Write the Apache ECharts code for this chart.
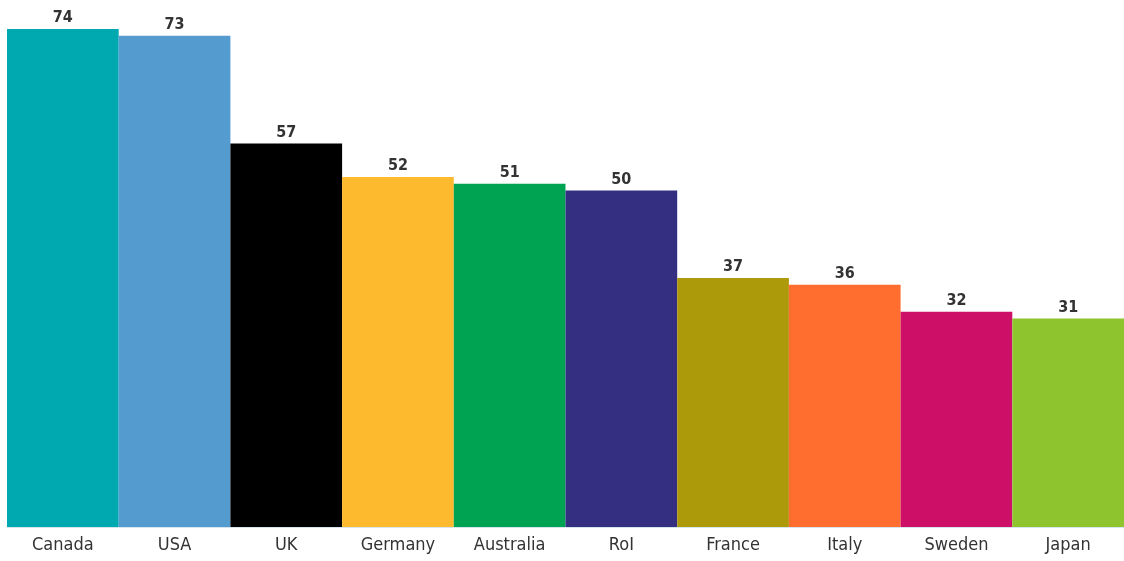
<!DOCTYPE html>
<html>
<head>
<meta charset="utf-8">
<script src="https://cdn.jsdelivr.net/npm/echarts@6/dist/echarts.min.js"></script>
<style>html,body{margin:0;padding:0;background:#fff}#chart{width:1124px;height:561px}</style>
</head>
<body>
<div id="chart"></div>
<script>
const categories = ['Canada','USA','UK','Germany','Australia','RoI','France','Italy','Sweden','Japan'];
const values = [74,73,57,52,51,50,37,36,32,31];
const colors = ['#00A8B0','#549BCF','#000000','#FDBA2F','#00A352','#352F82','#AD9A0B','#FF6E2F','#CE0F68','#8EC42D'];

const FONT = '"Liberation Sans Narrow","DejaVu Sans Condensed","Liberation Sans",sans-serif';
const chart = echarts.init(document.getElementById('chart'));
chart.setOption({
  animation: false,
  grid: {left: 7, right: 0, top: 29, bottom: 34, containLabel: false},
  xAxis: {
    type: 'category',
    data: categories,
    axisLine: {show: true, lineStyle: {color: '#d6e4ee', width: 1}},
    axisTick: {show: false},
    axisLabel: {color: '#333', fontSize: 18, fontFamily: FONT, margin: 9}
  },
  yAxis: {
    type: 'value', min: 0, max: 74, show: false,
    splitLine: {show: false}
  },
  series: [{
    type: 'bar',
    barCategoryGap: 0,
    data: values.map((v, i) => ({value: v, itemStyle: {color: colors[i]}})),
    label: {
      show: true, position: 'top', distance: 3,
      color: '#333', fontSize: 16, fontWeight: 'bold',
      fontFamily: FONT
    }
  }]
});
</script>
</body>
</html>
